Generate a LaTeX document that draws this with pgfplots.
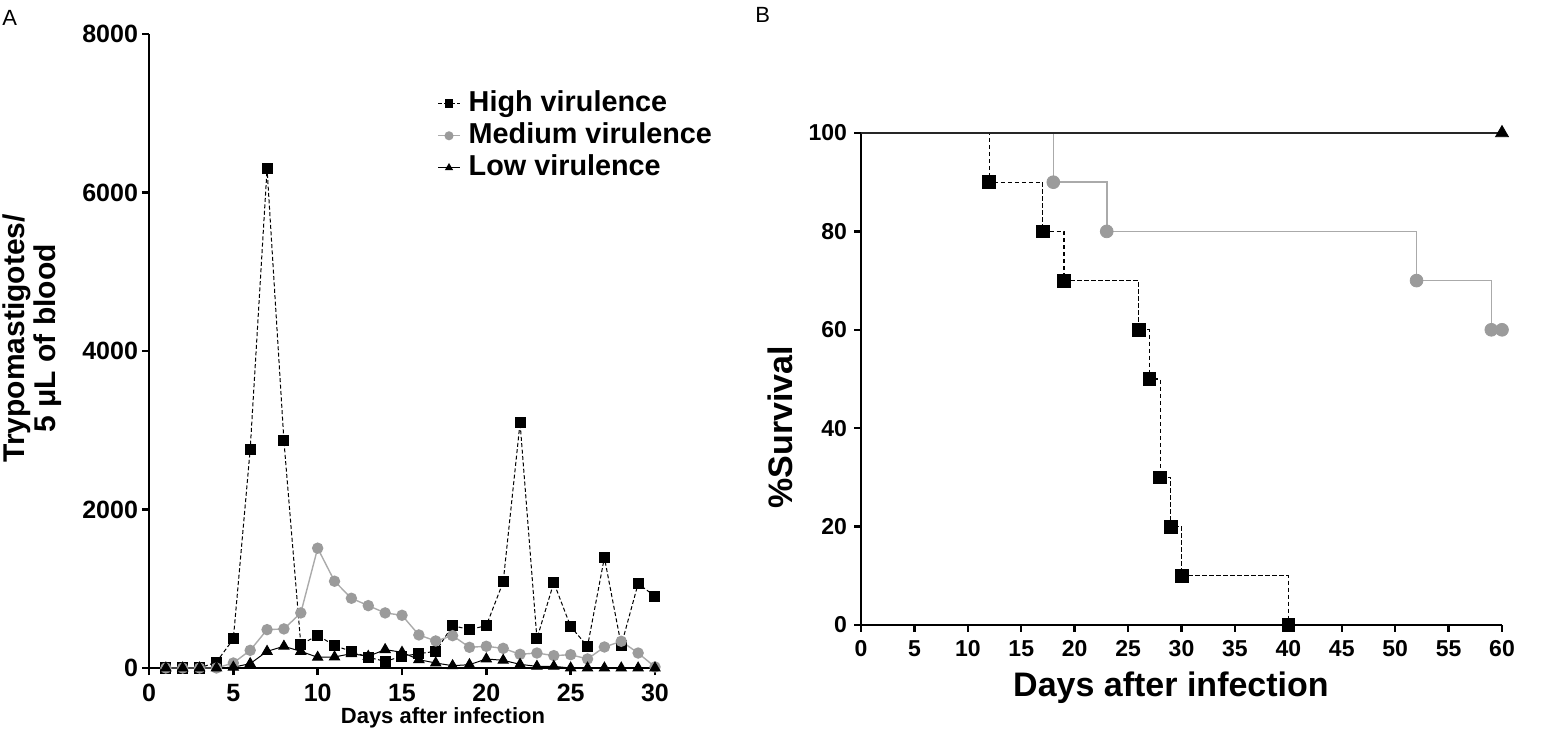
\documentclass[border=0pt]{standalone}
\usepackage{fontspec}
\setmainfont{Liberation Sans}
\usepackage{pgfplots}
\pgfplotsset{compat=1.18}
\definecolor{medgray}{HTML}{9B9B9B}
\definecolor{medline}{HTML}{AAAAAA}

\pgfplotsset{
  prism/.style={
    scale only axis,
    axis x line*=bottom, axis y line*=left,
    axis line style={line width=1.2bp, black},
    tick align=outside,
    major tick length=3.5bp,
    tick style={line width=1.2bp, black},
    minor tick num=0,
    clip=false,
    scaled ticks=false,
    /pgf/number format/1000 sep={},
    /pgf/number format/assume math mode=true,
  }
}

\begin{document}
\begin{tikzpicture}
\useasboundingbox (0bp,0bp) rectangle (772bp,366.5bp);
\node[anchor=north west, inner sep=0, font=\fontsize{11bp}{13bp}\selectfont] at (1bp,361.5bp) {A};
\node[anchor=north west, inner sep=0, font=\fontsize{11bp}{13bp}\selectfont] at (377.5bp,363bp) {B};

% ---------------- Panel A ----------------
\begin{axis}[prism,
  at={(74.5bp,32.5bp)}, anchor=south west,
  width=253bp, height=317bp,
  xmin=0, xmax=30, ymin=0, ymax=8000,
  xtick={0,5,...,30}, ytick={0,2000,...,8000},
  tick label style={font=\bfseries\fontsize{12.5bp}{14bp}\selectfont},
  yticklabel style={xshift=1.5bp},
  xticklabel style={yshift=-1bp},
  xlabel={Days after infection},
  xlabel style={at={(axis description cs:0.581,-0.079)}, anchor=center, font=\bfseries\fontsize{11bp}{13bp}\selectfont},
  ylabel={Trypomastigotes/\\5 μL of blood},
  ylabel style={at={(axis description cs:-0.23,0.52)}, anchor=center, align=center, font=\bfseries\fontsize{15bp}{15.5bp}\selectfont},
  legend style={draw=none, fill=none, at={(axis description cs:0.569,0.915)}, anchor=north west,
    inner sep=0pt, row sep=0.5bp, column sep=3bp,
    font=\bfseries\fontsize{14.4bp}{15bp}\selectfont,
    nodes={inner sep=1bp, text height=10.5bp, text depth=3bp}},
  legend cell align=left,
  legend image code/.code={\draw[mark repeat=2,mark phase=2,#1,mark size=1.9bp] plot coordinates {(0bp,0bp)(5.5bp,0bp)(11bp,0bp)};},
]
\addplot[black, line width=0.5bp, dash pattern=on 2bp off 1.2bp, mark=square*, mark size=2.5bp, mark options={solid}] coordinates {
(1,0)(2,0)(3,0)(4,75)(5,366)(6,2760)(7,6300)(8,2865)(9,295)(10,413)
(11,282)(12,210)(13,135)(14,84)(15,147)(16,181)(17,210)(18,535)(19,484)(20,535)
(21,1086)(22,3095)(23,370)(24,1078)(25,522)(26,274)(27,1394)(28,286)(29,1065)(30,905)};
\addlegendentry{High virulence}
\addplot[medline, line width=0.7bp, mark=*, mark size=2.5bp, mark options={fill=medgray, draw=medgray}] coordinates {
(1,0)(2,0)(3,0)(4,0)(5,63)(6,223)(7,484)(8,493)(9,695)(10,1512)
(11,1095)(12,880)(13,787)(14,695)(15,665)(16,417)(17,341)(18,408)(19,261)(20,274)
(21,248)(22,173)(23,189)(24,156)(25,168)(26,114)(27,265)(28,337)(29,189)(30,13)};
\addlegendentry{Medium virulence}
\addplot[black, line width=0.5bp, mark=triangle*, mark size=2.9bp] coordinates {
(1,0)(2,0)(3,0)(4,0)(5,10)(6,55)(7,210)(8,274)(9,210)(10,135)
(11,139)(12,181)(13,147)(14,232)(15,198)(16,105)(17,63)(18,29)(19,42)(20,114)
(21,97)(22,46)(23,21)(24,21)(25,0)(26,0)(27,0)(28,0)(29,0)(30,0)};
\addlegendentry{Low virulence}
\end{axis}

% ---------------- Panel B ----------------
\begin{axis}[prism,
  at={(430.5bp,54bp)}, anchor=south west,
  width=320.5bp, height=246bp,
  xmin=0, xmax=60, ymin=0, ymax=100,
  xtick={0,5,...,60}, ytick={0,20,...,100},
  tick label style={font=\bfseries\fontsize{11.5bp}{13bp}\selectfont},
  xticklabel style={yshift=-0.8bp},
  xlabel={Days after infection},
  xlabel style={at={(axis description cs:0.4836,-0.128)}, anchor=center, font=\bfseries\fontsize{17bp}{19bp}\selectfont},
  ylabel={\%Survival},
  ylabel style={at={(axis description cs:-0.1264,0.402)}, anchor=center, font=\bfseries\fontsize{17bp}{19bp}\selectfont},
]
\addplot[black, line width=0.6bp, dash pattern=on 2.2bp off 1.3bp, const plot] coordinates {(0,100)(12,90)(17,80)(19,70)(26,60)(27,50)(28,30)(29,20)(30,10)(40,0)};
\addplot[only marks, black, mark=square*, mark size=3.2bp] coordinates {(12,90)(17,80)(19,70)(26,60)(27,50)(28,30)(29,20)(30,10)(40,0)};
\addplot[medline, line width=0.8bp, const plot] coordinates {(0,100)(18,90)(23,80)(52,70)(59,60)(60,60)};
\addplot[only marks, mark=*, mark size=3.2bp, mark options={fill=medgray, draw=medgray}] coordinates {(18,90)(23,80)(52,70)(59,60)(60,60)};
\addplot[black!85, line width=0.7bp, const plot] coordinates {(0,100)(60,100)};
\addplot[only marks, black, mark=triangle*, mark size=3.7bp] coordinates {(60,100)};
\end{axis}
\end{tikzpicture}
\end{document}
